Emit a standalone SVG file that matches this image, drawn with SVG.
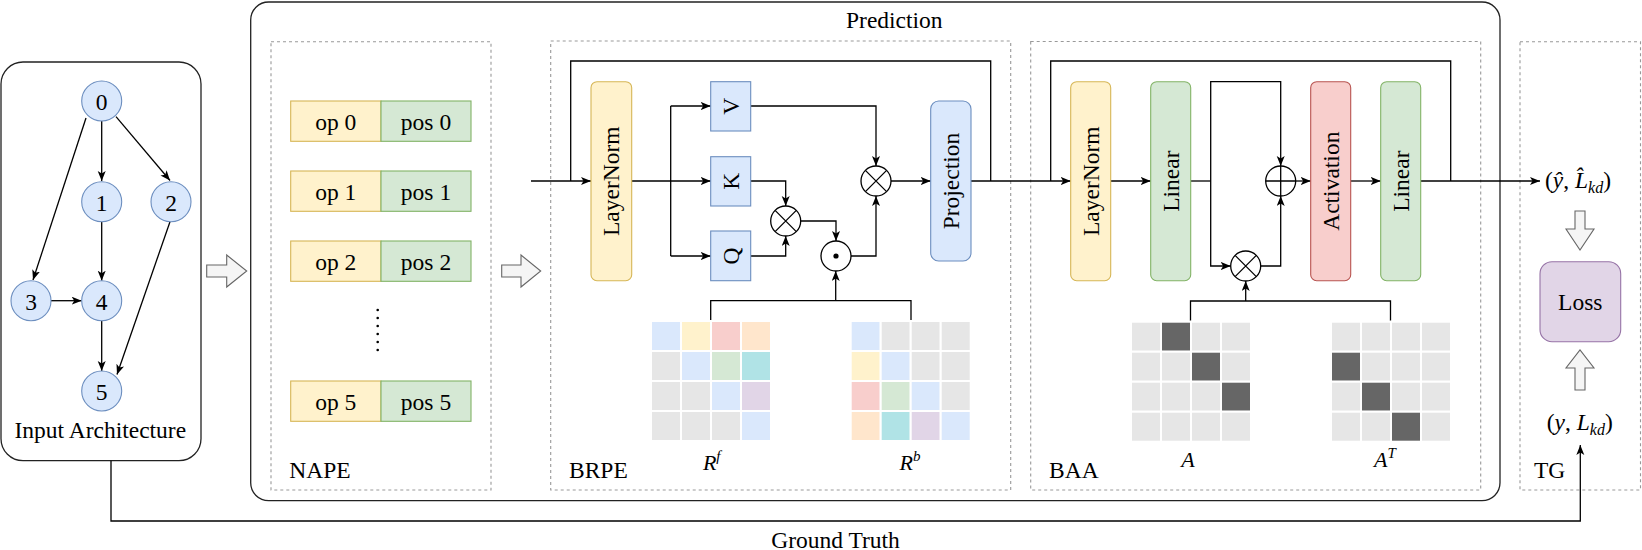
<svg xmlns="http://www.w3.org/2000/svg" width="1642" height="550" viewBox="0 0 1642 550">
<defs>
<marker id="arr" markerUnits="userSpaceOnUse" markerWidth="11" markerHeight="9" refX="10" refY="4" orient="auto">
<path d="M0,0 L10,4 L0,8 L2.5,4 Z" fill="#000"/>
</marker>
<style>
.c{stroke:#000;stroke-width:1.3;fill:none}
.ca{stroke:#000;stroke-width:1.3;fill:none;marker-end:url(#arr)}
.dash{fill:none;stroke:#999;stroke-width:1.1;stroke-dasharray:3,3}
.node{fill:#dae8fc;stroke:#6c8ebf;stroke-width:1.1}
.yel{fill:#fff2cc;stroke:#d6b656;stroke-width:1.1}
.grn{fill:#d5e8d4;stroke:#82b366;stroke-width:1.1}
.blu{fill:#dae8fc;stroke:#6c8ebf;stroke-width:1.1}
.red{fill:#f8cecc;stroke:#b85450;stroke-width:1.1}
.pur{fill:#e1d5e7;stroke:#9673a6;stroke-width:1.1}
.op{fill:#fff;stroke:#000;stroke-width:1.3}
.hol{fill:#f5f5f5;stroke:#666;stroke-width:1.1}
.mid{text-anchor:middle;dominant-baseline:central}
.m{font-style:italic}
.cell{stroke:#fff;stroke-width:2}
</style>
</defs>
<g font-family="Liberation Serif, serif" font-size="23.5" fill="#000">
<g id="input-architecture">
<rect x="1" y="62" width="200" height="398.7" rx="22" fill="#fff" stroke="#222" stroke-width="1.3"/>
<text x="100.3" y="438.3" text-anchor="middle">Input Architecture</text>
</g>
<g id="prediction">
<rect x="250.7" y="2" width="1249.3" height="498.7" rx="18" fill="#fff" stroke="#222" stroke-width="1.3"/>
<text x="894.3" y="28.3" text-anchor="middle">Prediction</text>
</g>
<g id="nape-box"><rect class="dash" x="271" y="41.7" width="220" height="448.3"/><text x="289.3" y="478">NAPE</text></g>
<g id="brpe-box"><rect class="dash" x="550.7" y="41" width="460" height="449"/><text x="569" y="478">BRPE</text></g>
<g id="baa-box"><rect class="dash" x="1030.7" y="41.5" width="450" height="448.5"/><text x="1049" y="478">BAA</text></g>
<g id="tg-box"><rect class="dash" x="1520" y="41.7" width="120.5" height="448.3"/><text x="1534" y="478">TG</text></g>

<g id="connectors">
<path class="ca" d="M101.7,121 V181"/>
<path class="ca" d="M116,116.7 L170,180.5"/>
<path class="ca" d="M86,118 L33,280"/>
<path class="ca" d="M101.7,221.7 V280.7"/>
<path class="ca" d="M51,300.7 H81.7"/>
<path class="ca" d="M101.7,320.7 V371"/>
<path class="ca" d="M170,221.7 L117,374.5"/>
<path class="ca" d="M531,181 H591"/>
<path class="c" d="M570.7,181 V61 H990.7 V181"/>
<path class="c" d="M631.7,181 H670.7 M670.7,106 V256"/>
<path class="ca" d="M670.7,106 H710.7"/>
<path class="ca" d="M670.7,181 H710.7"/>
<path class="ca" d="M670.7,256 H710.7"/>
<path class="ca" d="M750.7,181 H785.7 V206"/>
<path class="ca" d="M750.7,256 H785.7 V236"/>
<path class="ca" d="M800.7,221 H836 V241"/>
<path class="c" d="M710.7,321 V300.7 H911 V321"/>
<path class="ca" d="M835.7,300.7 V271"/>
<path class="ca" d="M851,256 H876 V196"/>
<path class="ca" d="M750.7,106 H876 V166"/>
<path class="ca" d="M891,181 H930.7"/>
<path class="ca" d="M971,181 H1070.7"/>
<path class="c" d="M1050.7,181 V61 H1450.7 V181"/>
<path class="ca" d="M1110.7,181 H1150.7"/>
<path class="c" d="M1190.7,181 H1210.7"/>
<path class="ca" d="M1210.7,181 V81.7 H1280.7 V166"/>
<path class="ca" d="M1210.7,181 V266 H1230.7"/>
<path class="ca" d="M1260.7,266 H1280.7 V196"/>
<path class="c" d="M1190.5,321.7 V301 H1390.5 V321.7"/>
<path class="ca" d="M1245.7,301 V281"/>
<path class="ca" d="M1295.7,181 H1310.7"/>
<path class="ca" d="M1350.7,181 H1380.7"/>
<path class="ca" d="M1420.7,181 H1540"/>
<path class="ca" d="M111,460.7 V521 H1580.3 V445" stroke="#333"/>
<text x="835.5" y="548" text-anchor="middle">Ground Truth</text>
<path class="hol" d="M206.7,265 H226.7 V255 L246.7,271 L226.7,287 V277 H206.7 Z"/>
<path class="hol" d="M501.7,265 H521 V255 L540.7,271 L521,287 V277 H501.7 Z"/>
<path class="hol" d="M1575,211 V229 H1566 L1580,250 L1594,229 H1585 V211 Z"/>
<path class="hol" d="M1575,390 V368 H1566 L1580,350 L1594,368 H1585 V390 Z"/>
</g>

<g id="n0"><circle class="node" cx="101.7" cy="101" r="20"/><text class="mid" x="101.7" y="102">0</text></g>
<g id="n1"><circle class="node" cx="101.7" cy="201.7" r="20"/><text class="mid" x="101.7" y="202.7">1</text></g>
<g id="n2"><circle class="node" cx="171" cy="201.7" r="20"/><text class="mid" x="171" y="202.7">2</text></g>
<g id="n3"><circle class="node" cx="31" cy="300.7" r="20"/><text class="mid" x="31" y="301.7">3</text></g>
<g id="n4"><circle class="node" cx="101.7" cy="300.7" r="20"/><text class="mid" x="101.7" y="301.7">4</text></g>
<g id="n5"><circle class="node" cx="101.7" cy="391" r="20"/><text class="mid" x="101.7" y="392">5</text></g>

<g id="emb0"><rect class="yel" x="290.7" y="101" width="90.3" height="40.3"/><rect class="grn" x="381" y="101" width="90" height="40.3"/><text class="mid" x="335.8" y="121.5">op 0</text><text class="mid" x="426" y="121.5">pos 0</text></g>
<g id="emb1"><rect class="yel" x="290.7" y="171" width="90.3" height="40.3"/><rect class="grn" x="381" y="171" width="90" height="40.3"/><text class="mid" x="335.8" y="191.5">op 1</text><text class="mid" x="426" y="191.5">pos 1</text></g>
<g id="emb2"><rect class="yel" x="290.7" y="241" width="90.3" height="40.3"/><rect class="grn" x="381" y="241" width="90" height="40.3"/><text class="mid" x="335.8" y="261.5">op 2</text><text class="mid" x="426" y="261.5">pos 2</text></g>
<g id="dots" fill="#000"><circle cx="377.7" cy="310" r="1.3"/><circle cx="377.7" cy="318" r="1.3"/><circle cx="377.7" cy="326" r="1.3"/><circle cx="377.7" cy="334" r="1.3"/><circle cx="377.7" cy="342" r="1.3"/><circle cx="377.7" cy="350" r="1.3"/></g>
<g id="emb5"><rect class="yel" x="290.7" y="381" width="90.3" height="40.3"/><rect class="grn" x="381" y="381" width="90" height="40.3"/><text class="mid" x="335.8" y="401.5">op 5</text><text class="mid" x="426" y="401.5">pos 5</text></g>

<g id="layernorm1"><rect class="yel" x="591" y="81.7" width="40.7" height="199" rx="6"/><text class="mid" x="611.3" y="181.2" transform="rotate(-90 611.3 181.2)">LayerNorm</text></g>
<g id="V"><rect class="blu" x="710.7" y="81.7" width="40" height="49.3"/><text class="mid" x="730.7" y="106.3" transform="rotate(-90 730.7 106.3)">V</text></g>
<g id="K"><rect class="blu" x="710.7" y="156.7" width="40" height="49.3"/><text class="mid" x="730.7" y="181.3" transform="rotate(-90 730.7 181.3)">K</text></g>
<g id="Q"><rect class="blu" x="710.7" y="231" width="40" height="49.7"/><text class="mid" x="730.7" y="256" transform="rotate(-90 730.7 256)">Q</text></g>
<g id="mul1"><circle class="op" cx="785.7" cy="221" r="15"/><path class="c" d="M775.1,210.4 L796.3,231.6 M796.3,210.4 L775.1,231.6"/></g>
<g id="dot"><circle class="op" cx="836" cy="256" r="15"/><circle cx="836" cy="256" r="2.6" fill="#000"/></g>
<g id="mul2"><circle class="op" cx="876" cy="181" r="15"/><path class="c" d="M865.4,170.4 L886.6,191.6 M886.6,170.4 L865.4,191.6"/></g>
<g id="projection"><rect class="blu" x="930.7" y="101" width="40.3" height="160" rx="8"/><text class="mid" x="950.8" y="181" transform="rotate(-90 950.8 181)">Projection</text></g>

<g id="Rf">
<rect class="cell" x="651" y="321" width="30" height="30" fill="#dae8fc"/><rect class="cell" x="681" y="321" width="30" height="30" fill="#fff2cc"/><rect class="cell" x="711" y="321" width="30" height="30" fill="#f8cecc"/><rect class="cell" x="741" y="321" width="30" height="30" fill="#ffe6cc"/>
<rect class="cell" x="651" y="351" width="30" height="30" fill="#e6e6e6"/><rect class="cell" x="681" y="351" width="30" height="30" fill="#dae8fc"/><rect class="cell" x="711" y="351" width="30" height="30" fill="#d5e8d4"/><rect class="cell" x="741" y="351" width="30" height="30" fill="#b0e3e6"/>
<rect class="cell" x="651" y="381" width="30" height="30" fill="#e6e6e6"/><rect class="cell" x="681" y="381" width="30" height="30" fill="#e6e6e6"/><rect class="cell" x="711" y="381" width="30" height="30" fill="#dae8fc"/><rect class="cell" x="741" y="381" width="30" height="30" fill="#e1d5e7"/>
<rect class="cell" x="651" y="411" width="30" height="30" fill="#e6e6e6"/><rect class="cell" x="681" y="411" width="30" height="30" fill="#e6e6e6"/><rect class="cell" x="711" y="411" width="30" height="30" fill="#e6e6e6"/><rect class="cell" x="741" y="411" width="30" height="30" fill="#dae8fc"/>
<text x="711.7" y="470" text-anchor="middle" font-size="22"><tspan class="m">R</tspan><tspan class="m" font-size="15" dy="-9">f</tspan></text>
</g>
<g id="Rb">
<rect class="cell" x="850.7" y="321" width="30" height="30" fill="#dae8fc"/><rect class="cell" x="880.7" y="321" width="30" height="30" fill="#e6e6e6"/><rect class="cell" x="910.7" y="321" width="30" height="30" fill="#e6e6e6"/><rect class="cell" x="940.7" y="321" width="30" height="30" fill="#e6e6e6"/>
<rect class="cell" x="850.7" y="351" width="30" height="30" fill="#fff2cc"/><rect class="cell" x="880.7" y="351" width="30" height="30" fill="#dae8fc"/><rect class="cell" x="910.7" y="351" width="30" height="30" fill="#e6e6e6"/><rect class="cell" x="940.7" y="351" width="30" height="30" fill="#e6e6e6"/>
<rect class="cell" x="850.7" y="381" width="30" height="30" fill="#f8cecc"/><rect class="cell" x="880.7" y="381" width="30" height="30" fill="#d5e8d4"/><rect class="cell" x="910.7" y="381" width="30" height="30" fill="#dae8fc"/><rect class="cell" x="940.7" y="381" width="30" height="30" fill="#e6e6e6"/>
<rect class="cell" x="850.7" y="411" width="30" height="30" fill="#ffe6cc"/><rect class="cell" x="880.7" y="411" width="30" height="30" fill="#b0e3e6"/><rect class="cell" x="910.7" y="411" width="30" height="30" fill="#e1d5e7"/><rect class="cell" x="940.7" y="411" width="30" height="30" fill="#dae8fc"/>
<text x="910" y="470" text-anchor="middle" font-size="22"><tspan class="m">R</tspan><tspan class="m" font-size="15" dy="-9">b</tspan></text>
</g>

<g id="layernorm2"><rect class="yel" x="1070.7" y="81.7" width="40" height="199" rx="6"/><text class="mid" x="1090.7" y="181.2" transform="rotate(-90 1090.7 181.2)">LayerNorm</text></g>
<g id="linear1"><rect class="grn" x="1150.7" y="81.7" width="40" height="199" rx="6"/><text class="mid" x="1170.7" y="181.2" transform="rotate(-90 1170.7 181.2)">Linear</text></g>
<g id="plus"><circle class="op" cx="1280.7" cy="181" r="15"/><path class="c" d="M1265.7,181 H1295.7 M1280.7,166 V196"/></g>
<g id="mul3"><circle class="op" cx="1245.7" cy="266" r="15"/><path class="c" d="M1235.1,255.4 L1256.3,276.6 M1256.3,255.4 L1235.1,276.6"/></g>
<g id="activation"><rect class="red" x="1310.7" y="81.7" width="40" height="199" rx="6"/><text class="mid" x="1330.7" y="181.2" transform="rotate(-90 1330.7 181.2)">Activation</text></g>
<g id="linear2"><rect class="grn" x="1380.7" y="81.7" width="40" height="199" rx="6"/><text class="mid" x="1400.7" y="181.2" transform="rotate(-90 1400.7 181.2)">Linear</text></g>

<g id="A">
<rect class="cell" x="1131" y="321.7" width="30" height="30" fill="#e6e6e6"/><rect class="cell" x="1161" y="321.7" width="30" height="30" fill="#666"/><rect class="cell" x="1191" y="321.7" width="30" height="30" fill="#e6e6e6"/><rect class="cell" x="1221" y="321.7" width="30" height="30" fill="#e6e6e6"/>
<rect class="cell" x="1131" y="351.7" width="30" height="30" fill="#e6e6e6"/><rect class="cell" x="1161" y="351.7" width="30" height="30" fill="#e6e6e6"/><rect class="cell" x="1191" y="351.7" width="30" height="30" fill="#666"/><rect class="cell" x="1221" y="351.7" width="30" height="30" fill="#e6e6e6"/>
<rect class="cell" x="1131" y="381.7" width="30" height="30" fill="#e6e6e6"/><rect class="cell" x="1161" y="381.7" width="30" height="30" fill="#e6e6e6"/><rect class="cell" x="1191" y="381.7" width="30" height="30" fill="#e6e6e6"/><rect class="cell" x="1221" y="381.7" width="30" height="30" fill="#666"/>
<rect class="cell" x="1131" y="411.7" width="30" height="30" fill="#e6e6e6"/><rect class="cell" x="1161" y="411.7" width="30" height="30" fill="#e6e6e6"/><rect class="cell" x="1191" y="411.7" width="30" height="30" fill="#e6e6e6"/><rect class="cell" x="1221" y="411.7" width="30" height="30" fill="#e6e6e6"/>
<text class="m" x="1188" y="467" text-anchor="middle" font-size="22">A</text>
</g>
<g id="AT">
<rect class="cell" x="1331" y="321.7" width="30" height="30" fill="#e6e6e6"/><rect class="cell" x="1361" y="321.7" width="30" height="30" fill="#e6e6e6"/><rect class="cell" x="1391" y="321.7" width="30" height="30" fill="#e6e6e6"/><rect class="cell" x="1421" y="321.7" width="30" height="30" fill="#e6e6e6"/>
<rect class="cell" x="1331" y="351.7" width="30" height="30" fill="#666"/><rect class="cell" x="1361" y="351.7" width="30" height="30" fill="#e6e6e6"/><rect class="cell" x="1391" y="351.7" width="30" height="30" fill="#e6e6e6"/><rect class="cell" x="1421" y="351.7" width="30" height="30" fill="#e6e6e6"/>
<rect class="cell" x="1331" y="381.7" width="30" height="30" fill="#e6e6e6"/><rect class="cell" x="1361" y="381.7" width="30" height="30" fill="#666"/><rect class="cell" x="1391" y="381.7" width="30" height="30" fill="#e6e6e6"/><rect class="cell" x="1421" y="381.7" width="30" height="30" fill="#e6e6e6"/>
<rect class="cell" x="1331" y="411.7" width="30" height="30" fill="#e6e6e6"/><rect class="cell" x="1361" y="411.7" width="30" height="30" fill="#e6e6e6"/><rect class="cell" x="1391" y="411.7" width="30" height="30" fill="#666"/><rect class="cell" x="1421" y="411.7" width="30" height="30" fill="#e6e6e6"/>
<text x="1385" y="467" text-anchor="middle" font-size="22"><tspan class="m">A</tspan><tspan class="m" font-size="15" dy="-9">T</tspan></text>
</g>

<g id="pred-out"><text x="1545" y="188">(<tspan class="m">ŷ</tspan>, <tspan class="m">L̂</tspan><tspan class="m" font-size="16" dy="5">kd</tspan><tspan dy="-5">)</tspan></text></g>
<g id="loss"><rect class="pur" x="1540" y="261.7" width="80.7" height="80" rx="12"/><text class="mid" x="1580.3" y="301.7">Loss</text></g>
<g id="gt-out"><text x="1546.7" y="430">(<tspan class="m">y</tspan>, <tspan class="m">L</tspan><tspan class="m" font-size="16" dy="5">kd</tspan><tspan dy="-5">)</tspan></text></g>
</g>
</svg>
